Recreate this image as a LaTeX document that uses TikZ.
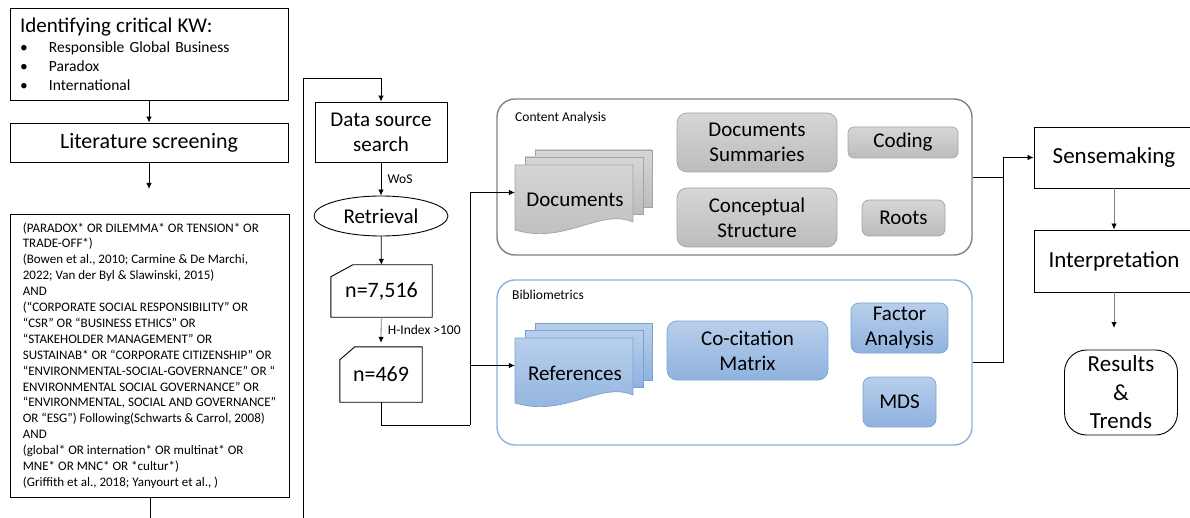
\documentclass[tikz,border=0pt]{standalone}
\usepackage{fontspec}
\setmainfont{Carlito}
\usetikzlibrary{%
	calc,%
	arrows.meta,%
	shapes.geometric
}
\definecolor{frameGray}{HTML}{808080}
\definecolor{frameBlue}{HTML}{8DB2E2}
\definecolor{grayTop}{HTML}{D6D6D6}
\definecolor{grayBot}{HTML}{BCBCBC}
\definecolor{grayLine}{HTML}{A3A3A3}
\definecolor{blueTop}{HTML}{B8CFEB}
\definecolor{blueBot}{HTML}{8FB2DE}
\definecolor{blueLine}{HTML}{7AA1D6}

\tikzset{
	plainbox/.style={draw, line width=0.9pt, inner sep=0pt, align=center},
	bigfont/.style={font=\fontsize{21}{25}\selectfont},
	hugefont/.style={font=\fontsize{23}{28.5}\selectfont},
	smallfont/.style={font=\fontsize{13.5}{16}\selectfont},
	graytile/.style={draw=grayLine, line width=0.7pt, top color=grayTop, bottom color=grayBot, rounded corners=#1, inner sep=0pt, align=center, bigfont},
	bluetile/.style={draw=blueLine, line width=0.7pt, top color=blueTop, bottom color=blueBot, rounded corners=#1, inner sep=0pt, align=center, bigfont},
	graypage/.style={draw=grayLine, line width=0.7pt, top color=grayTop, bottom color=grayBot},
	bluepage/.style={draw=blueLine, line width=0.7pt, top color=blueTop, bottom color=blueBot},
	flow/.style={line width=0.8pt, -{Latex[length=6pt,width=5.5pt,color=black]}},
	link/.style={line width=0.8pt}
}

% stack of three pages: name, x, y (top left of front page), page style, text
\newcommand{\pagestack}[5]{%
	\draw[#4] ({#2+20},{#3-15}) rectangle ++(117,57);
	\draw[#4] ({#2+10},{#3-8}) rectangle ++(118,57);
	\draw[#4] (#2,#3) -- ({#2+118},#3) -- ({#2+118},{#3+57})
		.. controls ({#2+85},{#3+43}) and ({#2+50},{#3+80}) .. (#2,{#3+65}) -- cycle;
	\node[inner sep=0pt, minimum width=118pt, minimum height=55pt] (#1) at ({#2+59},{#3+27.5}) {};
	\node[inner sep=0pt, bigfont] (#1text) at ({#2+60},{#3+35}) {#5};
}

\begin{document}
\begin{tikzpicture}[x=1pt,y=-1pt]
	\useasboundingbox (0,0) rectangle (1190,518);

	% search strategy
	\node[plainbox, align=left, text width=258pt, inner xsep=10pt, minimum height=92pt,
		font=\fontsize{15.5}{19}\selectfont] (kw) at (149,54)
		{{\fontsize{21}{24}\selectfont Identifying critical KW:}\\[1pt]
		\makebox[29pt][l]{\textbullet}Responsible Global Business\\
		\makebox[29pt][l]{\textbullet}Paradox\\
		\makebox[29pt][l]{\textbullet}International};
	\node[plainbox, minimum width=278pt, minimum height=39pt, font=\fontsize{22}{26}\selectfont] (screen) at (149,142.5) {Literature screening};
	\coordinate (screenout) at (149,189);
	\node[plainbox, align=left, inner xsep=9pt, minimum width=279pt, minimum height=283pt,
		font=\fontsize{13}{15.9}\selectfont] (query) at (149.5,355.5)
		{(PARADOX* OR DILEMMA* OR TENSION* OR\\
		TRADE-OFF*)\\
		(Bowen et al., 2010; Carmine \& De Marchi,\\
		2022; Van der Byl \& Slawinski, 2015)\\
		AND\\
		(“CORPORATE SOCIAL RESPONSIBILITY” OR\\
		“CSR” OR “BUSINESS ETHICS” OR\\
		“STAKEHOLDER MANAGEMENT” OR\\
		SUSTAINAB* OR “CORPORATE CITIZENSHIP” OR\\
		“ENVIRONMENTAL-SOCIAL-GOVERNANCE” OR “\\
		ENVIRONMENTAL SOCIAL GOVERNANCE” OR\\
		“ENVIRONMENTAL, SOCIAL AND GOVERNANCE”\\
		OR “ESG”) Following(Schwarts \& Carrol, 2008)\\
		AND\\
		(global* OR internation* OR multinat* OR\\
		MNE* OR MNC* OR *cultur*)\\
		(Griffith et al., 2018; Yanyourt et al., )};
	\coordinate (querybot) at (150,518);
	\coordinate (returnbot) at (303,518);
	\coordinate (returntop) at (303,78);

	\draw[flow] (kw) -- (screen);
	\draw[flow] (screen) -- (screenout);
	\draw[link] (query.south -| querybot) -- (querybot);

	% data collection
	\node[plainbox, minimum width=132pt, minimum height=60pt, bigfont] (source) at (381,132) {Data source\\search};
	\node[draw, line width=0.9pt, ellipse, inner sep=0pt, minimum width=134pt, minimum height=40pt, bigfont] (retrieval) at (381,216) {Retrieval};
	\node[inner sep=0pt, minimum width=101pt, minimum height=52pt, font=\fontsize{22}{26}\selectfont] (nall) at (381.5,291) {n=7,516};
	\draw[line width=0.9pt] ($(nall.north west)+(0,12)$) -- ($(nall.north west)+(22,0)$) -- (nall.north east)
		-- (nall.south east) -- (nall.south west) -- cycle;
	\node[inner sep=0pt, minimum width=82pt, minimum height=55pt, font=\fontsize{22}{26}\selectfont] (ntop) at (381,374.5) {n=469};
	\draw[line width=0.9pt] ($(ntop.north west)+(0,13)$) -- ($(ntop.north west)+(15,0)$) -- (ntop.north east)
		-- (ntop.south east) -- (ntop.south west) -- cycle;

	\draw[flow] (returnbot) -- (returntop) -| (source);
	\draw[flow] (source) -- node[right, smallfont, xshift=3pt] {WoS} (retrieval);
	\draw[flow] (retrieval) -- (nall);
	\draw[flow, draw=frameGray] (nall) -- node[right, smallfont, xshift=3pt] {H-Index >100} ($(ntop.north)+(0,-4)$);

	% content analysis
	\node[draw=frameGray, line width=1.4pt, rounded corners=18pt, minimum width=475pt, minimum height=156pt] (content) at (734.5,177) {};
	\node[anchor=west, smallfont, inner sep=0pt] (contentlbl) at (515,118) {Content Analysis};
	\pagestack{docs}{515}{165}{graypage}{Documents}
	\node[graytile=10pt, minimum width=160pt, minimum height=59pt] (summ) at (757,142.5) {Documents\\Summaries};
	\node[graytile=6pt, minimum width=110pt, minimum height=31pt] (coding) at (903,142.5) {Coding};
	\node[graytile=10pt, minimum width=160pt, minimum height=59pt] (concept) at (757,217.5) {Conceptual\\Structure};
	\node[graytile=7pt, minimum width=83pt, minimum height=36pt] (roots) at (903.5,218) {Roots};

	% bibliometrics
	\node[draw=frameBlue, line width=1.4pt, rounded corners=18pt, minimum width=475pt, minimum height=165pt] (biblio) at (734.5,362.5) {};
	\node[anchor=west, smallfont, inner sep=0pt] (bibliolbl) at (512,295) {Bibliometrics};
	\pagestack{refs}{515}{338}{bluepage}{References}
	\node[bluetile=10pt, minimum width=161pt, minimum height=59pt] (cocit) at (747.5,350.5) {Co-citation\\Matrix};
	\node[bluetile=8pt, minimum width=97pt, minimum height=50pt] (factor) at (899.5,328) {Factor\\Analysis};
	\node[bluetile=8pt, minimum width=73pt, minimum height=50pt] (mds) at (899.5,402) {MDS};

	\coordinate (fork) at (470,425);
	\draw[link] (ntop) |- (fork);
	\draw[flow] (fork) |- (docs.west);
	\draw[flow] (fork) |- (refs.west);

	% interpretation
	\node[plainbox, minimum width=160pt, minimum height=61pt, hugefont] (sense) at (1114,157.5) {Sensemaking};
	\node[plainbox, minimum width=160pt, minimum height=62pt, hugefont] (interp) at (1114,261) {Interpretation};
	\node[plainbox, rounded corners=22pt, minimum width=113pt, minimum height=85pt, hugefont] (results) at (1121,392.5) {Results\\\&\\Trends};
	\coordinate (merge) at (1003,177);
	\coordinate (interpout) at (1114,328);

	\draw[flow] (content) -- (merge) |- (sense);
	\draw[link] (biblio) -| (merge);
	\draw[flow, draw=frameGray] (sense) -- (interp);
	\draw[flow, draw=frameGray] (interp) -- (interpout);
\end{tikzpicture}
\end{document}
